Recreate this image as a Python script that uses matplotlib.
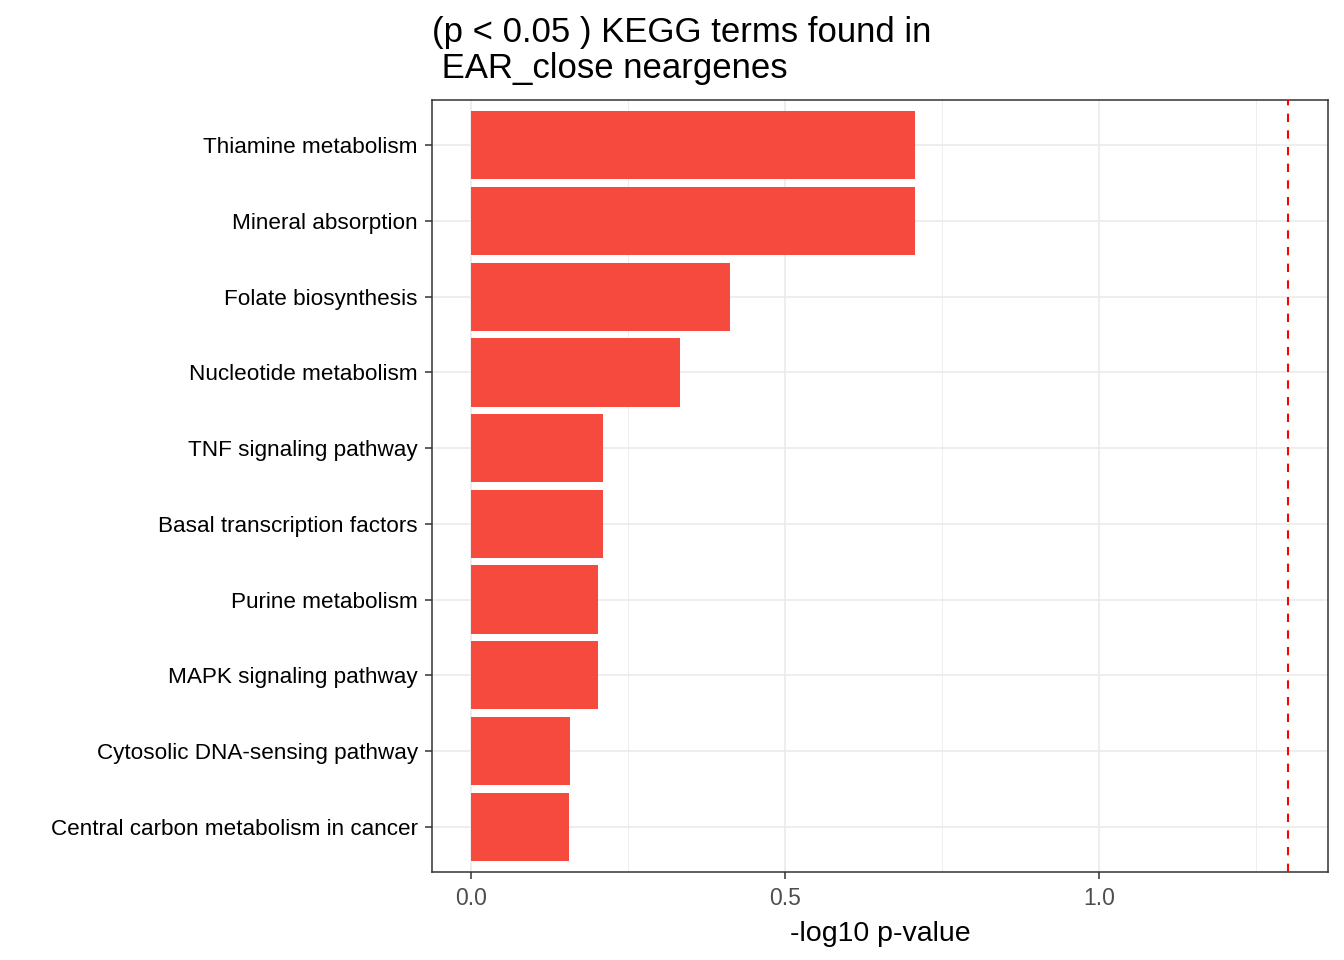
import numpy as np
import matplotlib.pyplot as plt

plt.rcParams['font.family'] = ['Liberation Sans', 'DejaVu Sans']

terms = ['Thiamine metabolism', 'Mineral absorption', 'Folate biosynthesis',
         'Nucleotide metabolism', 'TNF signaling pathway', 'Basal transcription factors',
         'Purine metabolism', 'MAPK signaling pathway', 'Cytosolic DNA-sensing pathway',
         'Central carbon metabolism in cancer']
neglog_p = [0.707, 0.707, 0.412, 0.333, 0.210, 0.210, 0.202, 0.202, 0.158, 0.156]
cutoff = -np.log10(0.05)

fig = plt.figure(figsize=(13.44, 9.6), dpi=100)
ax = fig.add_axes([432 / 1344, 1 - 872 / 960, (1328 - 432) / 1344, (872 - 100) / 960])

y = np.arange(len(terms))
ax.barh(y, neglog_p, height=0.9, color='#F74A3F', zorder=2)
ax.axvline(cutoff, color='red', linestyle=(0, (4, 4)), linewidth=1.5, zorder=3)

ax.set_xlim(-0.062, 1.3646)
ax.set_ylim(len(terms) - 0.4, -0.6)
ax.set_yticks(y)
ax.set_yticklabels(terms, fontsize=16.2, color='black')
ax.set_xticks([0.0, 0.5, 1.0])
ax.set_xticklabels(['0.0', '0.5', '1.0'], fontsize=16.5, color='#4D4D4D')
ax.set_xticks([0.25, 0.75, 1.25], minor=True)

ax.grid(which='major', color='#EBEBEB', linewidth=1.2, zorder=0)
ax.grid(which='minor', axis='x', color='#EBEBEB', linewidth=0.6, zorder=0)
ax.set_axisbelow(True)
ax.tick_params(which='major', length=5.3, width=1.1, color='#333333')
ax.tick_params(axis='y', pad=5)
ax.tick_params(axis='x', pad=5.5)
ax.tick_params(which='minor', length=0)
for s in ax.spines.values():
    s.set_color('#333333')
    s.set_linewidth(1.1)

ax.set_xlabel('-log10 p-value', fontsize=20.5, labelpad=8)
fig.text(432 / 1344, 1 - 16 / 960, '(p < 0.05 ) KEGG terms found in\n EAR_close neargenes',
         fontsize=25, ha='left', va='top', linespacing=1.11)

fig.savefig('out.png', dpi=100)
